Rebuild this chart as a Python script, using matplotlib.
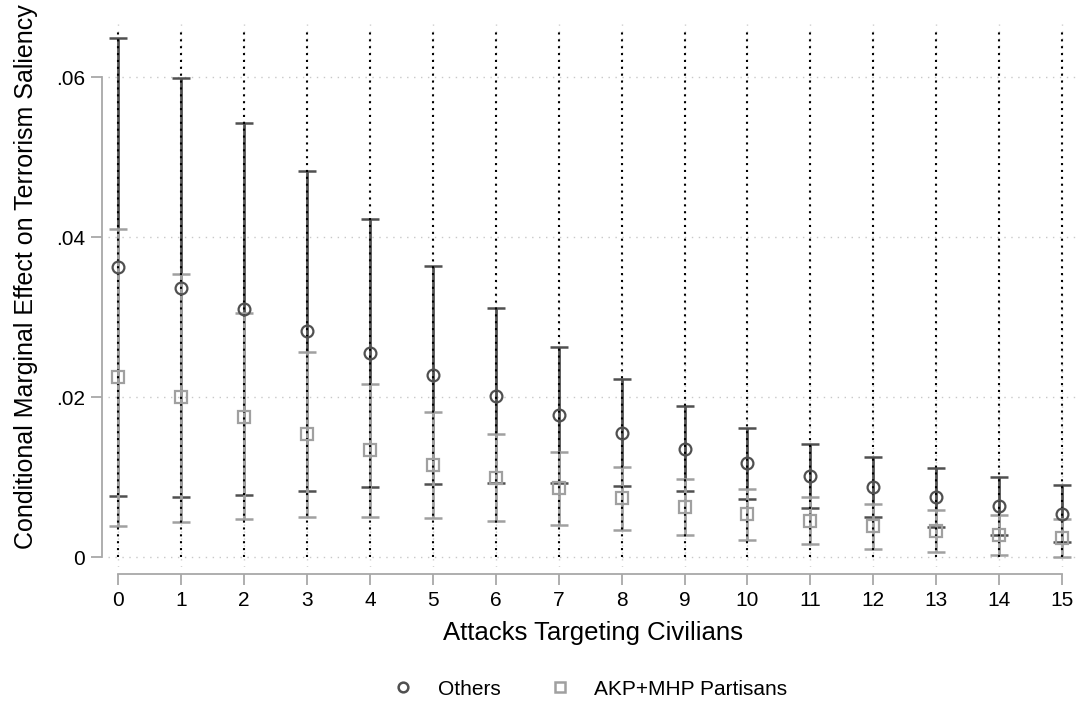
import matplotlib.pyplot as plt
from matplotlib.lines import Line2D
import numpy as np

plt.rcParams['font.family'] = ['Liberation Sans', 'DejaVu Sans']

attacks = np.arange(16)
tick_labels = [str(v) for v in attacks]

# Others: point estimate and 95% CI
others_est = [0.03625, 0.0337, 0.0310, 0.02825, 0.0255, 0.0228, 0.0202, 0.0178,
              0.01558, 0.01354, 0.01175, 0.0101, 0.00875, 0.0075, 0.0064, 0.00545]
others_hi = [0.0649, 0.0599, 0.05425, 0.04825, 0.04225, 0.0364, 0.0311, 0.0263,
             0.02225, 0.0189, 0.0161, 0.0141, 0.0125, 0.01116, 0.0100, 0.00904]
others_lo = [0.00763, 0.00758, 0.00783, 0.0083, 0.00875, 0.0091, 0.0093, 0.0093,
             0.00888, 0.00825, 0.00733, 0.00616, 0.0050, 0.00384, 0.0028, 0.00186]

# AKP+MHP partisans: point estimate and 95% CI
akp_est = [0.0225, 0.0200, 0.01758, 0.01537, 0.01337, 0.01154, 0.00995, 0.00862,
           0.00737, 0.00633, 0.00537, 0.00454, 0.00391, 0.00325, 0.00279, 0.00237]
akp_hi = [0.04108, 0.03545, 0.0305, 0.02566, 0.02166, 0.0182, 0.01541, 0.01312,
          0.01125, 0.00975, 0.00854, 0.0075, 0.00666, 0.00591, 0.00529, 0.00474]
akp_lo = [0.0039, 0.0044, 0.0048, 0.00504, 0.00508, 0.0049, 0.00454, 0.00408,
          0.00345, 0.00279, 0.00216, 0.00162, 0.00108, 0.00062, 0.00033, 0.0000]

y_ticks = [0, 0.02, 0.04, 0.06]
y_tick_labels = ['0', '.02', '.04', '.06']
xline_top = 0.0656

dark = '#505050'
light = '#a0a0a0'
axis_gray = '#a8a8a8'

fig = plt.figure(figsize=(10.82, 7.06), dpi=100)
ax = fig.add_axes([0.0998, 0.1969, 0.8965, 0.7719])

# light dotted grid
for yv in y_ticks:
    ax.axhline(yv, color='#c8c8c8', lw=1.0, ls=(0, (1, 4)), zorder=0)
for xv in attacks:
    ax.axvline(xv, color='#d0d0d0', lw=1.0, ls=(0, (1, 4)), zorder=0)

oe, ohi, olo = map(np.array, (others_est, others_hi, others_lo))
ae, ahi, alo = map(np.array, (akp_est, akp_hi, akp_lo))

ax.errorbar(attacks, oe, yerr=[oe - olo, ohi - oe], fmt='none', ecolor=dark,
            elinewidth=2.0, capsize=6.5, capthick=1.8, zorder=2)
ax.errorbar(attacks, ae, yerr=[ae - alo, ahi - ae], fmt='none', ecolor=light,
            elinewidth=2.0, capsize=6.5, capthick=1.8, zorder=2)

# black dotted reference lines at every count
ax.vlines(attacks, 0, xline_top, colors='black', lw=1.5, linestyles=[(0, (1, 2.3))],
          zorder=3)

ax.plot(attacks, oe, ls='none', marker='o', ms=8.5, mfc='none', mec=dark, mew=1.6, zorder=4)
ax.plot(attacks, ae, ls='none', marker='s', ms=8, mfc='none', mec=light, mew=1.6, zorder=4)

ax.set_xlim(-0.164, 15.254)
ax.set_ylim(-0.00121, 0.0669)

for side in ('top', 'right'):
    ax.spines[side].set_visible(False)
ax.spines['left'].set_position(('outward', 4.3))
ax.spines['bottom'].set_position(('outward', 5))
ax.spines['left'].set_bounds(0, 0.06)
ax.spines['bottom'].set_bounds(0, 15)
for side in ('left', 'bottom'):
    ax.spines[side].set_color(axis_gray)
    ax.spines[side].set_linewidth(1.3)

ax.set_xticks(attacks)
ax.set_xticklabels(tick_labels)
ax.set_yticks(y_ticks)
ax.set_yticklabels(y_tick_labels)
ax.tick_params(axis='both', length=8, width=1.3, color=axis_gray, labelsize=15, pad=4)

ax.set_xlabel('Attacks Targeting Civilians', fontsize=18.5, labelpad=8)
ax.set_ylabel('Conditional Marginal Effect on Terrorism Saliency', fontsize=18)
ax.yaxis.set_label_coords(-0.072, 0.533)

handles = [
    Line2D([], [], ls='none', marker='o', ms=7, mfc='none', mec=dark, mew=1.8),
    Line2D([], [], ls='none', marker='s', ms=7, mfc='none', mec=light, mew=1.8),
]
fig.legend(handles, ['Others', 'AKP+MHP Partisans'], loc='center', ncol=2,
           bbox_to_anchor=(0.5405, 0.024), frameon=False, fontsize=15,
           handletextpad=0.67, columnspacing=1.83)

fig.savefig('out.png', dpi=100)
